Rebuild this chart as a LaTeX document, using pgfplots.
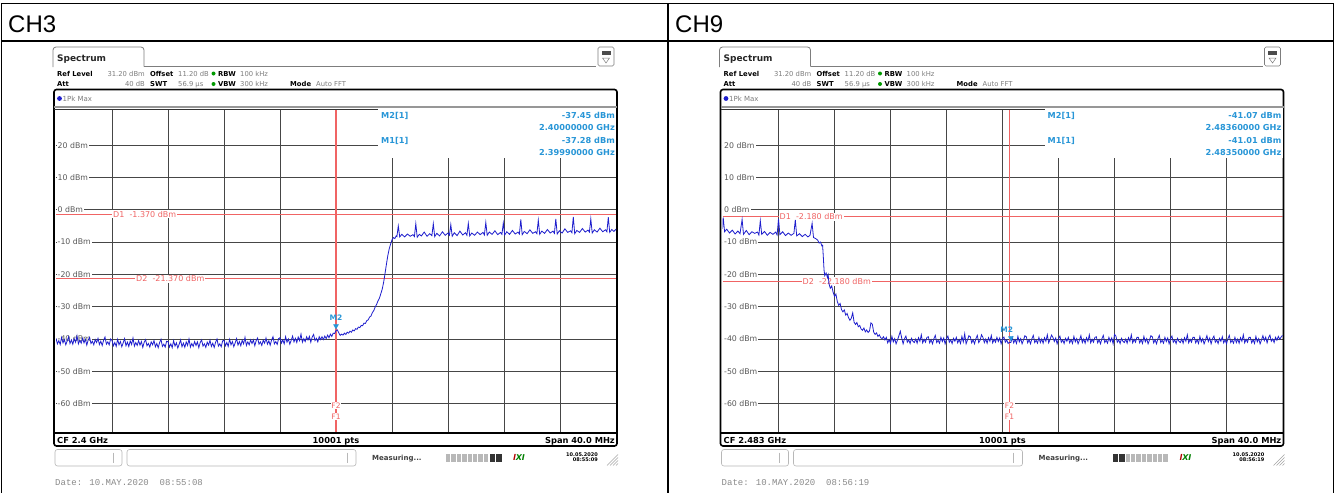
\documentclass[border=0pt]{standalone}
\usepackage{fontspec}
\setmainfont{DejaVu Sans}
\newfontfamily\arialf{Liberation Sans}
\newfontfamily\monof{Liberation Mono}
\usepackage{pgfplots}
\usepackage{pgfplotstable}
\pgfplotsset{compat=1.18}

\definecolor{tr}{RGB}{30,30,205}
\definecolor{rl}{RGB}{240,100,100}
\definecolor{mk}{RGB}{40,150,215}
\definecolor{gl}{RGB}{70,70,70}
\definecolor{gt}{RGB}{125,125,125}

\newcommand\py[1]{{109+(31.2-(#1))*3.23}}
\newcommand\px[1]{{56+((#1)+20)*14}}
\newcommand\fs[1]{\fontsize{#1}{#1}\selectfont}

% CH3 trace: frequency offset from 2.4 GHz (MHz), level (dBm)
\pgfplotstableread[row sep=\\]{
f d\\
-20.0 -39.8\\ -19.9 -41.5\\ -19.8 -40.5\\ -19.7 -41.7\\ -19.6 -39.5\\ -19.5 -41.2\\ -19.4 -40.2\\ -19.3 -41.8\\ -19.2 -40.6\\ -19.1 -39.3\\
-19.0 -41.4\\ -18.9 -40.3\\ -18.8 -41.6\\ -18.7 -39.9\\ -18.6 -41.0\\ -18.5 -39.0\\ -18.4 -41.5\\ -18.3 -40.4\\ -18.2 -41.3\\ -18.1 -39.8\\
-18.0 -41.2\\ -17.9 -40.1\\ -17.8 -41.9\\ -17.7 -40.3\\ -17.6 -39.5\\ -17.5 -41.4\\ -17.4 -40.7\\ -17.3 -41.8\\ -17.2 -40.2\\ -17.1 -41.1\\
-17.0 -39.8\\ -16.9 -41.7\\ -16.8 -40.7\\ -16.7 -42.0\\ -16.6 -40.4\\ -16.5 -39.4\\ -16.4 -41.6\\ -16.3 -40.9\\ -16.2 -41.8\\ -16.1 -40.0\\
-16.0 -40.4\\ -15.9 -42.1\\ -15.8 -41.1\\ -15.7 -42.3\\ -15.6 -40.1\\ -15.5 -41.8\\ -15.4 -40.8\\ -15.3 -42.4\\ -15.2 -41.2\\ -15.1 -39.9\\
-15.0 -42.1\\ -14.9 -41.0\\ -14.8 -42.3\\ -14.7 -40.6\\ -14.6 -41.7\\ -14.5 -39.7\\ -14.4 -42.2\\ -14.3 -41.1\\ -14.2 -42.0\\ -14.1 -40.5\\
-14.0 -41.9\\ -13.9 -40.8\\ -13.8 -42.6\\ -13.7 -41.0\\ -13.6 -40.2\\ -13.5 -42.1\\ -13.4 -41.4\\ -13.3 -42.5\\ -13.2 -40.9\\ -13.1 -41.8\\
-13.0 -40.5\\ -12.9 -42.4\\ -12.8 -41.4\\ -12.7 -42.7\\ -12.6 -41.1\\ -12.5 -40.1\\ -12.4 -42.3\\ -12.3 -41.6\\ -12.2 -42.5\\ -12.1 -40.7\\
-12.0 -40.8\\ -11.9 -42.5\\ -11.8 -41.5\\ -11.7 -42.7\\ -11.6 -40.5\\ -11.5 -42.2\\ -11.4 -41.2\\ -11.3 -42.8\\ -11.2 -41.6\\ -11.1 -40.3\\
-11.0 -42.4\\ -10.9 -41.3\\ -10.8 -42.6\\ -10.7 -40.9\\ -10.6 -42.0\\ -10.5 -40.0\\ -10.4 -42.5\\ -10.3 -41.4\\ -10.2 -42.3\\ -10.1 -40.8\\
-10.0 -42.0\\ -9.9 -40.9\\ -9.8 -42.7\\ -9.7 -41.1\\ -9.6 -40.3\\ -9.5 -42.2\\ -9.4 -41.5\\ -9.3 -42.6\\ -9.2 -41.0\\ -9.1 -41.9\\
-9.0 -40.4\\ -8.9 -42.3\\ -8.8 -41.3\\ -8.7 -42.6\\ -8.6 -41.0\\ -8.5 -40.0\\ -8.4 -42.2\\ -8.3 -41.5\\ -8.2 -42.4\\ -8.1 -40.6\\
-8.0 -40.4\\ -7.9 -42.1\\ -7.8 -41.1\\ -7.7 -42.3\\ -7.6 -40.1\\ -7.5 -41.8\\ -7.4 -40.8\\ -7.3 -42.4\\ -7.2 -41.2\\ -7.1 -39.9\\
-7.0 -41.9\\ -6.9 -40.8\\ -6.8 -42.1\\ -6.7 -40.4\\ -6.6 -41.5\\ -6.5 -39.5\\ -6.4 -42.0\\ -6.3 -40.9\\ -6.2 -41.8\\ -6.1 -40.3\\
-6.0 -41.4\\ -5.9 -40.3\\ -5.8 -42.1\\ -5.7 -40.5\\ -5.6 -39.7\\ -5.5 -41.6\\ -5.4 -40.9\\ -5.3 -42.0\\ -5.2 -40.4\\ -5.1 -41.3\\
-5.0 -39.7\\ -4.9 -41.6\\ -4.8 -40.6\\ -4.7 -41.9\\ -4.6 -40.3\\ -4.5 -39.3\\ -4.4 -41.5\\ -4.3 -40.8\\ -4.2 -41.7\\ -4.1 -39.9\\
-4.0 -39.6\\ -3.9 -41.3\\ -3.8 -40.3\\ -3.7 -41.5\\ -3.6 -39.3\\ -3.5 -41.0\\ -3.4 -40.0\\ -3.3 -41.6\\ -3.2 -40.4\\ -3.1 -39.1\\
-3.0 -40.9\\ -2.9 -39.8\\ -2.8 -41.1\\ -2.7 -39.4\\ -2.6 -40.5\\ -2.5 -38.5\\ -2.4 -41.0\\ -2.3 -39.9\\ -2.2 -40.8\\ -2.1 -39.3\\
-2.0 -40.3\\ -1.9 -39.2\\ -1.8 -41.0\\ -1.7 -39.4\\ -1.6 -38.6\\ -1.5 -40.5\\ -1.4 -39.8\\ -1.3 -40.9\\ -1.2 -39.3\\ -1.1 -40.2\\
-1.0 -39.3\\ -0.9 -40.2\\ -0.8 -39.1\\ -0.7 -39.9\\ -0.6 -38.8\\ -0.5 -39.6\\ -0.4 -38.5\\ -0.3 -39.2\\ -0.2 -38.2\\ -0.1 -38.3\\
0 -37.4\\ 0.1 -37.2\\ 0.2 -38.1\\ 0.3 -38.9\\ 0.4 -38.5\\ 0.5 -38.8\\ 0.6 -38.2\\ 0.7 -38.6\\ 0.8 -37.9\\ 0.9 -38.2\\
1 -37.6\\ 1.1 -37.9\\ 1.2 -37.2\\ 1.3 -37.5\\ 1.4 -36.8\\ 1.5 -37.0\\ 1.6 -36.3\\ 1.7 -36.5\\ 1.8 -35.8\\ 1.9 -35.9\\
2 -35.1\\ 2.1 -35.2\\ 2.2 -34.3\\ 2.3 -34.1\\ 2.4 -33.2\\ 2.5 -32.9\\ 2.6 -31.8\\ 2.7 -31.2\\ 2.8 -30.1\\ 2.9 -29.3\\
3 -28.2\\ 3.1 -27.4\\ 3.2 -26.0\\ 3.3 -24.6\\ 3.4 -22.5\\ 3.5 -19.8\\ 3.6 -16.9\\ 3.7 -14.2\\ 3.8 -12.1\\ 3.9 -10.6\\
4 -9.3\\ 4.1 -8.6\\ 4.2 -8.9\\ 4.3 -8.1\\ 4.35 -8.3\\ 4.45 -5.0\\ 4.55 -8.4\\ 4.7 -7.6\\ 4.9 -8.4\\ 5.1 -7.5\\
5.3 -8.2\\ 5.5 -7.7\\ 5.6 -8.3\\ 5.7 -4.3\\ 5.8 -8.5\\ 5.95 -7.6\\ 6.1 -8.1\\ 6.3 -6.9\\ 6.5 -8.2\\ 6.7 -7.4\\
6.85 -8.0\\ 6.95 -4.3\\ 7.05 -8.3\\ 7.2 -7.3\\ 7.4 -8.1\\ 7.6 -6.8\\ 7.8 -7.9\\ 8.0 -7.2\\ 8.1 -7.9\\ 8.2 -4.6\\
8.3 -8.2\\ 8.45 -7.1\\ 8.65 -8.0\\ 8.85 -6.6\\ 9.05 -7.8\\ 9.25 -7.1\\ 9.35 -7.9\\ 9.45 -4.2\\ 9.55 -8.1\\ 9.7 -7.2\\
9.9 -7.9\\ 10.1 -6.9\\ 10.3 -7.7\\ 10.5 -7.0\\ 10.6 -7.8\\ 10.7 -3.9\\ 10.8 -7.9\\ 10.95 -6.9\\ 11.15 -7.6\\ 11.35 -6.5\\
11.55 -7.7\\ 11.75 -7.0\\ 11.85 -7.6\\ 11.95 -4.1\\ 12.05 -7.8\\ 12.2 -6.8\\ 12.4 -7.6\\ 12.6 -6.4\\ 12.8 -7.5\\ 13.0 -6.9\\
13.1 -7.5\\ 13.2 -3.0\\ 13.3 -7.7\\ 13.45 -6.7\\ 13.65 -7.4\\ 13.85 -6.2\\ 14.05 -7.3\\ 14.25 -6.8\\ 14.35 -7.4\\ 14.45 -3.2\\
14.55 -7.6\\ 14.7 -6.6\\ 14.9 -7.3\\ 15.1 -6.1\\ 15.3 -7.2\\ 15.5 -6.6\\ 15.6 -7.3\\ 15.7 -2.8\\ 15.8 -7.5\\ 15.95 -6.5\\
16.15 -7.2\\ 16.35 -5.9\\ 16.55 -7.0\\ 16.75 -6.5\\ 16.85 -7.1\\ 16.95 -2.2\\ 17.05 -7.4\\ 17.2 -6.4\\ 17.4 -7.0\\ 17.6 -5.8\\
17.8 -6.9\\ 18.0 -6.3\\ 18.1 -6.9\\ 18.2 -2.8\\ 18.3 -7.2\\ 18.45 -6.2\\ 18.65 -6.9\\ 18.85 -5.7\\ 19.05 -6.8\\ 19.25 -6.2\\
19.35 -6.8\\ 19.45 -2.3\\ 19.55 -7.0\\ 19.7 -6.1\\ 19.85 -6.7\\ 20 -6.0\\
}\chA

% CH9 trace: frequency offset from 2.483 GHz (MHz), level (dBm)
\pgfplotstableread[row sep=\\]{
f d\\
-20 -5.9\\ -19.95 -2.4\\ -19.85 -6.8\\ -19.7 -6.0\\ -19.5 -7.2\\ -19.3 -6.3\\ -19.1 -7.5\\ -18.9 -6.6\\ -18.75 -7.4\\ -18.6 -3.0\\
-18.5 -7.6\\ -18.3 -6.4\\ -18.1 -7.7\\ -17.9 -6.8\\ -17.7 -7.3\\ -17.5 -6.9\\ -17.4 -7.8\\ -17.3 -3.4\\ -17.2 -7.6\\ -17 -6.7\\
-16.8 -7.9\\ -16.6 -7.0\\ -16.4 -7.6\\ -16.2 -6.9\\ -16.1 -7.8\\ -16 -2.8\\ -15.9 -7.7\\ -15.7 -6.8\\ -15.5 -8.0\\ -15.3 -7.2\\
-15.1 -7.9\\ -14.9 -7.3\\ -14.8 -3.1\\ -14.7 -8.1\\ -14.5 -7.4\\ -14.3 -8.3\\ -14.1 -7.6\\ -13.9 -8.4\\ -13.75 -7.9\\ -13.6 -4.2\\
-13.5 -8.6\\ -13.35 -8.9\\ -13.2 -9.4\\ -13.1 -10.3\\ -13 -10.0\\ -12.9 -11.2\\ -12.85 -11.0\\ -12.8 -14.5\\ -12.75 -18.5\\ -12.7 -20.4\\
-12.6 -19.6\\ -12.5 -21.0\\ -12.45 -20.2\\ -12.4 -22.8\\ -12.3 -24.3\\ -12.2 -23.6\\ -12.1 -25.5\\ -12 -26.8\\ -11.9 -26.1\\ -11.8 -28.4\\
-11.7 -29.6\\ -11.6 -29.0\\ -11.5 -30.9\\ -11.4 -31.6\\ -11.3 -31.0\\ -11.2 -32.6\\ -11.1 -32.1\\ -11 -33.4\\ -10.9 -34.2\\ -10.8 -33.6\\
-10.7 -31.9\\ -10.6 -34.8\\ -10.5 -35.5\\ -10.4 -34.9\\ -10.3 -36.2\\ -10.2 -35.8\\ -10.1 -36.9\\ -10 -37.3\\ -9.9 -36.6\\ -9.8 -37.8\\
-9.7 -37.2\\ -9.6 -38.0\\ -9.5 -37.5\\ -9.4 -35.0\\ -9.3 -35.4\\ -9.2 -37.9\\ -9.1 -38.6\\ -9 -38.1\\ -8.9 -39.2\\ -8.8 -38.7\\
-8.7 -39.6\\ -8.6 -39.9\\ -8.5 -39.3\\ -8.4 -40.3\\
-8.3 -39.5\\ -8.2 -41.2\\ -8.1 -40.2\\ -8.0 -41.4\\ -7.9 -39.2\\ -7.8 -40.9\\ -7.7 -39.9\\ -7.6 -41.5\\ -7.5 -40.3\\ -7.4 -39.0\\
-7.3 -37.6\\ -7.2 -39.7\\ -7.1 -41.5\\ -7.0 -39.9\\ -6.9 -39.1\\ -6.8 -41.0\\ -6.7 -40.3\\ -6.6 -41.4\\ -6.5 -39.8\\ -6.4 -40.7\\
-6.3 -41.1\\ -6.2 -40.0\\ -6.1 -41.3\\ -6.0 -39.6\\ -5.9 -40.7\\ -5.8 -38.7\\ -5.7 -41.2\\ -5.6 -40.1\\ -5.5 -41.0\\ -5.4 -39.5\\
-5.3 -39.3\\ -5.2 -41.2\\ -5.1 -40.2\\ -5.0 -41.5\\ -4.9 -39.9\\ -4.8 -38.9\\ -4.7 -41.1\\ -4.6 -40.4\\ -4.5 -41.3\\ -4.4 -39.5\\
-4.3 -40.8\\ -4.2 -39.7\\ -4.1 -41.5\\ -4.0 -39.9\\ -3.9 -39.1\\ -3.8 -41.0\\ -3.7 -40.3\\ -3.6 -41.4\\ -3.5 -39.8\\ -3.4 -40.7\\
-3.3 -39.5\\ -3.2 -41.2\\ -3.1 -40.2\\ -3.0 -41.4\\ -2.9 -39.2\\ -2.8 -40.9\\ -2.7 -38.4\\ -2.6 -41.5\\ -2.5 -40.3\\ -2.4 -39.0\\
-2.3 -39.3\\ -2.2 -41.2\\ -2.1 -40.2\\ -2.0 -41.5\\ -1.9 -39.9\\ -1.8 -38.9\\ -1.7 -41.1\\ -1.6 -40.4\\ -1.5 -38.7\\ -1.4 -39.5\\
-1.3 -41.1\\ -1.2 -40.0\\ -1.1 -41.3\\ -1.0 -39.6\\ -0.9 -40.7\\ -0.8 -38.9\\ -0.7 -41.2\\ -0.6 -40.1\\ -0.5 -41.0\\ -0.4 -39.5\\
-0.3 -40.8\\ -0.2 -39.7\\ -0.1 -41.5\\ 0.0 -39.9\\ 0.1 -39.4\\ 0.2 -41.0\\ 0.3 -40.3\\ 0.4 -41.4\\ 0.5 -41.01\\ 0.6 -41.07\\
0.7 -39.5\\ 0.8 -41.2\\ 0.9 -40.2\\ 1.0 -41.4\\ 1.1 -39.2\\ 1.2 -40.9\\ 1.3 -39.9\\ 1.4 -41.5\\ 1.5 -40.3\\ 1.6 -39.0\\
1.7 -39.3\\ 1.8 -41.2\\ 1.9 -40.2\\ 2.0 -41.5\\ 2.1 -39.9\\ 2.2 -38.9\\ 2.3 -41.1\\ 2.4 -40.4\\ 2.5 -41.3\\ 2.6 -39.5\\
2.7 -41.1\\ 2.8 -40.0\\ 2.9 -41.3\\ 3.0 -39.6\\ 3.1 -40.7\\ 3.2 -38.7\\ 3.3 -41.2\\ 3.4 -40.1\\ 3.5 -38.8\\ 3.6 -39.5\\
3.7 -40.8\\ 3.8 -39.7\\ 3.9 -41.5\\ 4.0 -39.9\\ 4.1 -39.1\\ 4.2 -41.0\\ 4.3 -40.3\\ 4.4 -41.4\\ 4.5 -39.8\\ 4.6 -40.7\\
4.7 -39.5\\ 4.8 -41.2\\ 4.9 -40.2\\ 5.0 -41.4\\ 5.1 -39.2\\ 5.2 -40.9\\ 5.3 -39.9\\ 5.4 -41.5\\ 5.5 -40.3\\ 5.6 -39.0\\
5.7 -41.1\\ 5.8 -40.0\\ 5.9 -41.3\\ 6.0 -39.6\\ 6.1 -40.7\\ 6.2 -38.7\\ 6.3 -41.2\\ 6.4 -40.1\\ 6.5 -41.0\\ 6.6 -39.5\\
6.7 -39.3\\ 6.8 -41.2\\ 6.9 -40.2\\ 7.0 -41.5\\ 7.1 -39.9\\ 7.2 -38.9\\ 7.3 -41.1\\ 7.4 -40.4\\ 7.5 -41.3\\ 7.6 -39.5\\
7.7 -40.8\\ 7.8 -39.7\\ 7.9 -41.5\\ 8.0 -38.6\\ 8.1 -39.1\\ 8.2 -41.0\\ 8.3 -40.3\\ 8.4 -41.4\\ 8.5 -39.8\\ 8.6 -40.7\\
8.7 -41.1\\ 8.8 -40.0\\ 8.9 -41.3\\ 9.0 -39.6\\ 9.1 -40.7\\ 9.2 -38.7\\ 9.3 -41.2\\ 9.4 -40.1\\ 9.5 -41.0\\ 9.6 -39.5\\
9.7 -39.5\\ 9.8 -41.2\\ 9.9 -40.2\\ 10.0 -41.4\\ 10.1 -39.2\\ 10.2 -40.9\\ 10.3 -39.9\\ 10.4 -41.5\\ 10.5 -40.3\\ 10.6 -39.0\\
10.7 -39.3\\ 10.8 -41.2\\ 10.9 -40.2\\ 11.0 -41.5\\ 11.1 -39.9\\ 11.2 -38.9\\ 11.3 -41.1\\ 11.4 -40.4\\ 11.5 -41.3\\ 11.6 -39.5\\
11.7 -40.8\\ 11.8 -39.7\\ 11.9 -41.5\\ 12.0 -39.9\\ 12.1 -39.1\\ 12.2 -41.0\\ 12.3 -40.3\\ 12.4 -41.4\\ 12.5 -39.8\\ 12.6 -40.7\\
12.7 -41.1\\ 12.8 -40.0\\ 12.9 -41.3\\ 13.0 -39.6\\ 13.1 -40.7\\ 13.2 -38.7\\ 13.3 -41.2\\ 13.4 -40.1\\ 13.5 -41.0\\ 13.6 -39.5\\
13.7 -39.5\\ 13.8 -41.2\\ 13.9 -40.2\\ 14.0 -41.4\\ 14.1 -39.2\\ 14.2 -40.9\\ 14.3 -39.9\\ 14.4 -41.5\\ 14.5 -40.3\\ 14.6 -39.0\\
14.7 -40.8\\ 14.8 -39.7\\ 14.9 -41.5\\ 15.0 -39.9\\ 15.1 -39.1\\ 15.2 -41.0\\ 15.3 -40.3\\ 15.4 -41.4\\ 15.5 -39.8\\ 15.6 -40.7\\
15.7 -39.3\\ 15.8 -41.2\\ 15.9 -40.2\\ 16.0 -41.5\\ 16.1 -39.9\\ 16.2 -38.9\\ 16.3 -41.1\\ 16.4 -40.4\\ 16.5 -41.3\\ 16.6 -39.5\\
16.7 -41.1\\ 16.8 -40.0\\ 16.9 -41.3\\ 17.0 -39.6\\ 17.1 -40.7\\ 17.2 -38.7\\ 17.3 -41.2\\ 17.4 -40.1\\ 17.5 -41.0\\ 17.6 -39.5\\
17.7 -39.5\\ 17.8 -41.2\\ 17.9 -40.2\\ 18.0 -41.4\\ 18.1 -39.2\\ 18.2 -40.9\\ 18.3 -39.9\\ 18.4 -41.5\\ 18.5 -40.3\\ 18.6 -39.0\\
18.7 -40.5\\ 18.8 -39.4\\ 18.9 -41.2\\ 19.0 -39.6\\ 19.1 -38.8\\ 19.2 -40.7\\ 19.3 -40.0\\ 19.4 -41.1\\ 19.5 -39.5\\ 19.6 -40.4\\
19.7 -39.2\\ 19.8 -40.1\\ 19.9 -39.4\\ 20.0 -38.9\\
}\chB

\pgfplotsset{
  scr/.style={scale only axis, width=560pt, height=323pt,
    xmin=-20, xmax=20, ymin=-68.8, ymax=31.2,
    axis line style={draw=none}, tick style={draw=none},
    major tick length=0pt, xticklabels={}, yticklabels={}},
  bg/.style={scr, xtick={-16,-12,...,16}, ytick={-60,-50,...,20},
    grid=major, major grid style={gl, line width=0.9pt}},
  fg/.style={scr, xtick=\empty, ytick=\empty},
}

% common decorations of one screenshot, in pixel coordinates
% #1 CF text, #2 status time, #3 date-line time, #4 progress style
\newcommand\decor[4]{%
  \draw[gt, line width=0.8pt, rounded corners=3pt] (53,67) -- (53,47) -- (144,47) -- (144,66.5);
  \draw[gt, line width=0.8pt] (144,66.5) -- (596,66.5);
  \node[anchor=base west, font=\bfseries\fs{9}, text=black!85, inner sep=0pt] at (57,61) {Spectrum};
  \draw[gt, line width=0.6pt, rounded corners=1.5pt] (598,47) rectangle (614,66);
  \fill[black!70] (601.5,50.5) rectangle (610.5,55);
  \draw[gt, line width=0.5pt] (602.5,58) -- (609.5,58) -- (606,63) -- cycle;
  \begin{scope}[every node/.style={inner sep=0pt, font=\fs{6.8}}]
    \node[anchor=base west, font=\bfseries\fs{6.8}] at (57,76) {Ref Level};
    \node[anchor=base east, text=gt] at (145,76) {31.20 dBm};
    \node[anchor=base west, font=\bfseries\fs{6.8}] at (150,76) {Offset};
    \node[anchor=base west, text=gt] at (178,76) {11.20 dB};
    \fill[green!60!black] (213.5,73.5) circle (2);
    \node[anchor=base west, font=\bfseries\fs{6.8}] at (218,76) {RBW};
    \node[anchor=base west, text=gt] at (240,76) {100 kHz};
    \node[anchor=base west, font=\bfseries\fs{6.8}] at (57,86.5) {Att};
    \node[anchor=base east, text=gt] at (145,86.5) {40 dB};
    \node[anchor=base west, font=\bfseries\fs{6.8}] at (150,86.5) {SWT};
    \node[anchor=base west, text=gt] at (178,86.5) {56.9 µs};
    \fill[green!60!black] (213.5,84) circle (2);
    \node[anchor=base west, font=\bfseries\fs{6.8}] at (218,86.5) {VBW};
    \node[anchor=base west, text=gt] at (240,86.5) {300 kHz};
    \node[anchor=base west, font=\bfseries\fs{6.8}] at (290,86.5) {Mode};
    \node[anchor=base west, text=gt] at (316,86.5) {Auto FFT};
  \end{scope}
  \draw[black, line width=1.6pt, rounded corners=2.5pt] (54,89.5) rectangle (617,446);
  \fill[tr] (59.5,98.5) circle (2.4);
  \node[anchor=west, font=\fs{7}, text=gt, inner sep=0pt] at (62.5,98.5) {1Pk Max};
  \draw[gt!80, line width=1.6pt] (54,106.8) -- (617,106.8);
  \fill[white] (378,108) rectangle (616.2,157.5);
  \draw[black!80, line width=0.8pt] (54,109.5) -- (378,109.5);
  \draw[black, line width=1.2pt] (54,433) -- (617,433);
  \node[anchor=base west, font=\bfseries\fs{8.3}, inner sep=0pt] at (57,443) {CF #1};
  \node[anchor=base, font=\bfseries\fs{8.3}, inner sep=0pt] at (336,443) {10001 pts};
  \node[anchor=base east, font=\bfseries\fs{8.3}, inner sep=0pt] at (615,443) {Span 40.0 MHz};
  \foreach \v in {20,10,...,-60}
    \node[anchor=west, fill=white, inner sep=1pt, text=black!65, font=\fs{7.8}] at (56.5,\py{\v}) {\v\ dBm};
  \draw[gt!55, line width=0.6pt, rounded corners=2.5pt] (55,449.5) rectangle (122,466);
  \draw[gt!55, line width=0.5pt] (113,452.5) -- (113,463);
  \draw[gt!55, line width=0.6pt, rounded corners=2.5pt] (127,449.5) rectangle (356,466);
  \draw[gt!55, line width=0.5pt] (347,452.5) -- (347,463);
  \node[anchor=base west, font=\bfseries\fs{7}, text=black!75, inner sep=0pt] at (372,460.5) {Measuring...};
  \ifnum#4=0
    \foreach \i in {0,...,7} \fill[gt!55] ({446+\i*5.4},454) rectangle ({450.4+\i*5.4},462);
    \fill[black!80] (489.5,454) rectangle (495,462);
    \fill[black!80] (496,454) rectangle (501.5,462);
  \else
    \fill[black!80] (446,454) rectangle (451.5,462);
    \fill[black!80] (452.5,454) rectangle (458,462);
    \foreach \i in {0,...,7} \fill[gt!55] ({459+\i*5.4},454) rectangle ({463.4+\i*5.4},462);
  \fi
  \node[font=\bfseries\itshape\fs{8}, text=green!50!black, inner sep=0pt] at (519,457.5) {\textcolor{red!70!black}{l}XI};
  \node[anchor=east, align=right, font=\bfseries\fs{5}, inner sep=0pt] at (598,457.5) {10.05.2020\\#2};
  \foreach \k in {2,5,8,11} \draw[gt!70, line width=0.5pt] ({618-\k},465.5) -- (618,{465.5-\k});
  \node[anchor=base west, font=\monof\fs{9}, text=gt!90, inner sep=0pt] at (55,485) {Date: 10.MAY.2020\ \ #3};
}

% #1 D1 level, #2 D1 text, #3 D2 level, #4 D2 text, #5 F position
\newcommand\reds[5]{%
  \node[anchor=west, fill=white, inner sep=1pt, text=rl, font=\fs{8}] at (112,\py{#1}) {#2};
  \node[anchor=west, fill=white, inner sep=1pt, text=rl, font=\fs{8}] at (135,\py{#3}) {#4};
  \node[fill=white, inner sep=0.5pt, text=rl, font=\fs{7.5}] at (\px{#5},405.5) {F2};
  \node[fill=white, inner sep=0.5pt, text=rl, font=\fs{7.5}] at (\px{#5},416.5) {F1};
}
\newcommand\readout[4]{%
  \begin{scope}[every node/.style={inner sep=0pt, text=mk, font=\bfseries\fs{8.2}}]
    \node[anchor=base west] at (381,118) {M2[1]};
    \node[anchor=base east] at (615,118) {#1};
    \node[anchor=base east] at (615,130) {#2};
    \node[anchor=base west] at (381,143) {M1[1]};
    \node[anchor=base east] at (615,143) {#3};
    \node[anchor=base east] at (615,155) {#4};
  \end{scope}
}

\begin{document}
\begin{tikzpicture}[x=1pt,y=-1pt]
\path[use as bounding box] (0,0) rectangle (1335,493);
\fill[white] (0,0) rectangle (1335,493);

% ---------------- CH3 ----------------
\begin{scope}
\begin{axis}[bg, at={(56pt,-432pt)}, anchor=south west]
  \addplot[rl, line width=0.8pt] coordinates {(-20,-1.37) (20,-1.37)};
  \addplot[rl, line width=0.8pt] coordinates {(-20,-21.37) (20,-21.37)};
  \addplot[rl, line width=1.2pt] coordinates {(0,-68.8) (0,31.2)};
\end{axis}
\decor{2.4 GHz}{08:55:09}{08:55:08}{0}
\reds{-1.37}{D1\ \ -1.370 dBm}{-21.37}{D2\ \ -21.370 dBm}{0}
\readout{-37.45 dBm}{2.40000000 GHz}{-37.28 dBm}{2.39990000 GHz}
\begin{axis}[fg, at={(56pt,-432pt)}, anchor=south west]
  \addplot[tr, line width=0.8pt] table[x=f, y=d] {\chA};
  \addplot[mk, only marks, mark=triangle*, mark size=2.8pt, mark options={rotate=180}] coordinates {(0,-36.0)};
  \node[text=mk, font=\bfseries\fs{7.5}, inner sep=0pt] at (axis cs:0,-33.4) {M2};
\end{axis}
\end{scope}

% ---------------- CH9 ----------------
\begin{scope}[xshift=666.5pt]
\begin{axis}[bg, at={(56pt,-432pt)}, anchor=south west]
  \addplot[rl, line width=0.8pt] coordinates {(-20,-2.18) (20,-2.18)};
  \addplot[rl, line width=0.8pt] coordinates {(-20,-22.18) (20,-22.18)};
  \addplot[rl, line width=1.2pt] coordinates {(0.5,-68.8) (0.5,31.2)};
\end{axis}
\decor{2.483 GHz}{08:56:19}{08:56:19}{1}
\reds{-2.18}{D1\ \ -2.180 dBm}{-22.18}{D2\ \ -22.180 dBm}{0.5}
\readout{-41.07 dBm}{2.48360000 GHz}{-41.01 dBm}{2.48350000 GHz}
\begin{axis}[fg, at={(56pt,-432pt)}, anchor=south west]
  \addplot[tr, line width=0.8pt] table[x=f, y=d] {\chB};
  \addplot[mk, only marks, mark=triangle*, mark size=2.8pt, mark options={rotate=180}] coordinates {(0.6,-39.7)};
  \node[text=mk, font=\bfseries\fs{7.5}, inner sep=0pt] at (axis cs:0.3,-37.1) {M2};
\end{axis}
\end{scope}

% ---------------- table ----------------
\draw[black, line width=1.8pt] (0.9,3.5) -- (1334.1,3.5);
\draw[black, line width=1.8pt] (0.9,41) -- (1334.1,41);
\draw[black, line width=1.8pt] (1.5,3.5) -- (1.5,493);
\draw[black, line width=1.8pt] (668,3.5) -- (668,493);
\draw[black, line width=1.8pt] (1333.5,3.5) -- (1333.5,493);
\node[anchor=base west, font=\arialf\fs{24}, inner sep=0pt] at (8,32) {CH3};
\node[anchor=base west, font=\arialf\fs{24}, inner sep=0pt] at (675,32) {CH9};
\end{tikzpicture}
\end{document}
